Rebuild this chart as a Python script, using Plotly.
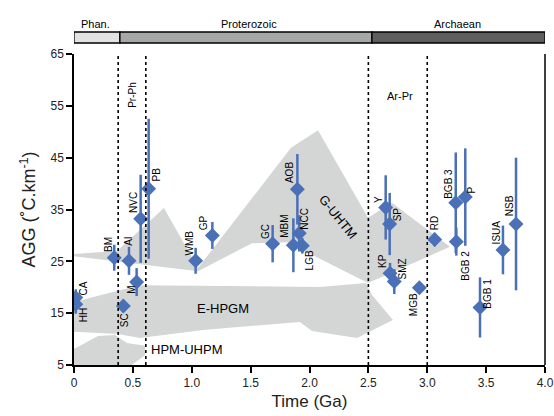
import plotly.graph_objects as go

# ---------------- data ----------------
names = ["CA", "HH", "BM", "AI", "M", "SC", "NVC", "PB", "WMB", "GP", "GC", "MBM", "AOB",
         "NCC", "LGB", "Y", "SP", "KP", "SMZ", "MGB", "RD", "BGB 3", "P", "BGB 2", "ISUA",
         "NSB", "BGB 1"]
ages = [0.015, 0.015, 0.342, 0.467, 0.532, 0.419, 0.566, 0.634, 1.033, 1.175, 1.687, 1.863,
        1.897, 1.913, 1.939, 2.647, 2.681, 2.684, 2.720, 2.933, 3.063, 3.242, 3.323, 3.247,
        3.643, 3.754, 3.448]
agg = [18.0, 16.7, 25.7, 25.1, 21.0, 16.4, 33.2, 39.0, 25.1, 30.0, 28.4, 28.1, 38.9,
       30.4, 28.0, 35.4, 32.2, 22.7, 21.1, 19.9, 29.2, 36.3, 37.4, 28.8, 27.2, 32.2, 16.1]
err = [1.6, 1.8, 2.5, 2.7, 2.7, 0.0, 8.5, 13.5, 2.5, 2.6, 3.6, 5.2, 6.8,
       3.5, 1.5, 6.2, 6.0, 2.0, 2.4, 0.0, 1.3, 9.7, 9.4, 2.7, 4.7, 12.8, 5.8]

# label offsets in pixels (dx right, dy down)
label_dx = [8, 8, -6, 0, -6, 2, -7, 8, -6.5, -8.6, -7.7, -8.3, -7.3, 5.7, 7, -7, 7.6, -7.3,
            8.3, -6, 0, -7.3, 6.4, 9.4, -7, -6.7, 7.3]
label_dy = [-9, 11, -13, -20, 8, 14, -16.5, -14, -17.5, -13, -12.7, -18.6, -16.3, -14.5,
            14.3, -8, -10, -12, -12.7, 17, -16, -19.4, -7.3, 24.3, -17.5, -18.2, -14]

# field polygons (Ga, AGG)
guhtm_t = [0.0, 0.365, 0.764, 1.053, 1.843, 2.072, 2.497, 2.70, 3.193, 2.497, 1.809, 1.512, 1.053, 0.0]
guhtm_v = [26.4, 27.0, 35.3, 23.7, 46.9, 50.3, 33.4, 36.3, 27.8, 20.8, 28.7, 28.5, 23.1, 26.0]
ehpgm_t = [0.0, 0.331, 0.561, 2.089, 2.48, 2.531, 2.709, 2.403, 2.021, 1.919, 1.096, 0.561, 0.374, 0.0]
ehpgm_v = [17.15, 19.1, 20.4, 20.05, 20.8, 18.5, 13.7, 10.2, 11.56, 13.3, 11.75, 10.2, 11.0, 11.4]
hpm_t = [0.0, 0.204, 0.348, 0.45, 0.603, 0.603, 0.476, 0.0]
hpm_v = [8.1, 10.6, 10.8, 9.25, 8.7, 6.9, 4.8, 4.8]

# boundaries
dashed_t = [0.375, 0.61, 2.5, 3.0]
eons = ["Phan.", "Proterozoic", "Archaean"]
eon_start = [0.0, 0.39, 2.53]
eon_end = [0.39, 2.53, 4.0]
eon_colors = ["#e2e2e2", "#a6a7a7", "#5e5e5e"]
eon_label_x = [0.18, 1.49, 3.26]

xticks = [0, 0.5, 1.0, 1.5, 2.0, 2.5, 3.0, 3.5, 4.0]
xticklabels = ["0", "0.5", "1.0", "1.5", "2.0", "2.5", "3.0", "3.5", "4.0"]
yticks = [5, 15, 25, 35, 45, 55, 65]

BLUE = "#4a70b7"
GREY = "#d4d5d5"
FONT = "Liberation Sans, Arial, sans-serif"

fig = go.Figure()
for tt, vv in [(guhtm_t, guhtm_v), (ehpgm_t, ehpgm_v), (hpm_t, hpm_v)]:
    fig.add_trace(go.Scatter(x=tt, y=vv, fill="toself", fillcolor=GREY, mode="none",
                             hoverinfo="skip", showlegend=False))

fig.add_trace(go.Scatter(
    x=ages, y=agg, mode="markers",
    marker=dict(symbol="diamond", size=11.5, color=BLUE),
    error_y=dict(type="data", array=err, symmetric=True, thickness=2.5, width=0, color=BLUE),
    showlegend=False))

shapes = []
for t in dashed_t:
    shapes.append(dict(type="line", xref="x", yref="paper", x0=t, x1=t, y0=0, y1=1,
                       line=dict(color="black", width=1.6, dash="dot")))
# right border
shapes.append(dict(type="line", xref="paper", yref="paper", x0=1, x1=1, y0=0, y1=1,
                   line=dict(color="black", width=1.5)))
# eon bar
for s, e, c in zip(eon_start, eon_end, eon_colors):
    shapes.append(dict(type="rect", xref="x", yref="paper", x0=s, x1=e, y0=1.0354, y1=1.0707,
                       fillcolor=c, line=dict(color="black", width=1.3)))

ann = []
for n, t, v, dx, dy in zip(names, ages, agg, label_dx, label_dy):
    ann.append(dict(x=t, y=v, xref="x", yref="y", text=n, showarrow=False, textangle=-90,
                    xshift=dx, yshift=-dy, font=dict(size=10, color="black", family=FONT)))
for n, xl in zip(eons, eon_label_x):
    ann.append(dict(x=xl, y=1.122, xref="x", yref="paper", text=n, showarrow=False,
                    font=dict(size=11, color="black", family=FONT)))
ann.append(dict(x=1.268, y=15.9, text="E-HPGM", showarrow=False, font=dict(size=13, family=FONT, color="black")))
ann.append(dict(x=0.957, y=7.9, text="HPM-UHPM", showarrow=False, font=dict(size=13, family=FONT, color="black")))
ann.append(dict(x=2.238, y=33.6, text="G-UHTM", showarrow=False, textangle=51,
                font=dict(size=13, family=FONT, color="black")))
ann.append(dict(x=0.50, y=57.1, text="Pr-Ph", showarrow=False, textangle=-90,
                font=dict(size=10, family=FONT, color="black")))
ann.append(dict(x=2.77, y=56.9, text="Ar-Pr", showarrow=False,
                font=dict(size=11, family=FONT, color="black")))

fig.update_layout(
    width=554, height=416, margin=dict(l=74, r=9, t=54, b=51, autoexpand=False),
    paper_bgcolor="white", plot_bgcolor="white",
    shapes=shapes, annotations=ann,
    font=dict(family=FONT, color="#222"),
    xaxis=dict(range=[0, 4], tickvals=xticks, ticktext=xticklabels, showgrid=False,
               zeroline=False, showline=True, linecolor="black", linewidth=1.5,
               ticks="outside", ticklen=6, tickwidth=1.5, tickcolor="black", automargin=False,
               tickfont=dict(size=12, family=FONT),
               title=dict(text="Time (Ga)", font=dict(size=17, family=FONT), standoff=6)),
    yaxis=dict(range=[5, 65], tickvals=yticks, showgrid=False, zeroline=False,
               showline=True, linecolor="black", linewidth=1.5, automargin=False,
               ticks="outside", ticklen=6, tickwidth=1.5, tickcolor="black",
               tickfont=dict(size=12, family=FONT),
               title=dict(text="AGG (˚C.km<sup>-1</sup>)", font=dict(size=18, family=FONT), standoff=10)),
)

fig.write_html("out.html")
